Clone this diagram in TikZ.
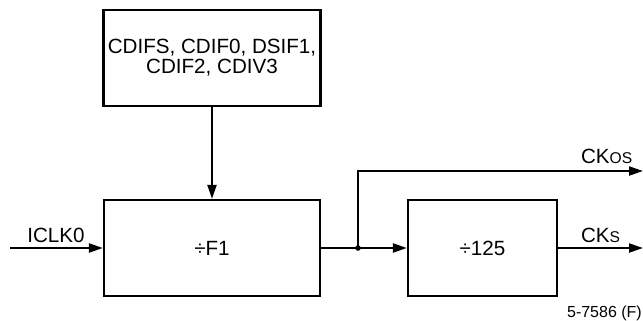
\documentclass[tikz,border=0pt]{standalone}
\usepackage{fontspec}
\setmainfont{Liberation Sans}
\usetikzlibrary{arrows.meta}
\newcommand\block[4]{\node[block,minimum width=#3] (#1) at (#2) {#4};}
\newcommand\wire[2]{\draw[->] (#1) -- (#2);}
\newcommand\smallcap[1]{{\fontsize{7.8}{9}\selectfont #1}}

\begin{document}
\begin{tikzpicture}[x=0.5pt,y=-0.5pt]
\tikzstyle{every node}=[font=\fontsize{10.3}{10}\selectfont]
\tikzstyle{block}=[draw,rectangle,minimum height=48pt,align=center,inner sep=0pt]
\tikzstyle{slabel}=[inner sep=0pt,anchor=base west]
\tikzstyle{every path}=[line width=1.1pt]
\tikzset{>={Triangle[length=7pt,width=4.5pt]}}
\useasboundingbox (0,0) rectangle (643,321);

%% blocks

\block{sel}{212,58}{108.5pt}{CDIFS, CDIF0, DSIF1,\\CDIF2, CDIV3}
\block{divf}{212,248}{108pt}{÷F1}
\block{div125}{482.5,248}{74.5pt}{÷125}

%% signal ends

\coordinate (in) at (10,248);
\coordinate (tap) at (358,248);
\coordinate (os) at (643,171);
\coordinate (s) at (643,248);

%% labels

\node[slabel,anchor=base] (iclk) at (56,242) {ICLK0};
\node[slabel] (ckos) at (580,163) {CK\smallcap{OS}};
\node[slabel] (cks) at (580,242) {CK\smallcap{S}};
\node[slabel,font=\fontsize{8}{9}\selectfont] (fig) at (566,317) {5-7586 (F)};

%% connections

\wire{in}{divf.west}
\wire{sel.south}{divf.north}
\draw (divf.east) -- (tap);
\wire{tap}{div125.west}
\draw[->] (tap) |- (os);
\wire{div125.east}{s}
\fill (tap) circle (1.4pt);
\end{tikzpicture}
\end{document}
